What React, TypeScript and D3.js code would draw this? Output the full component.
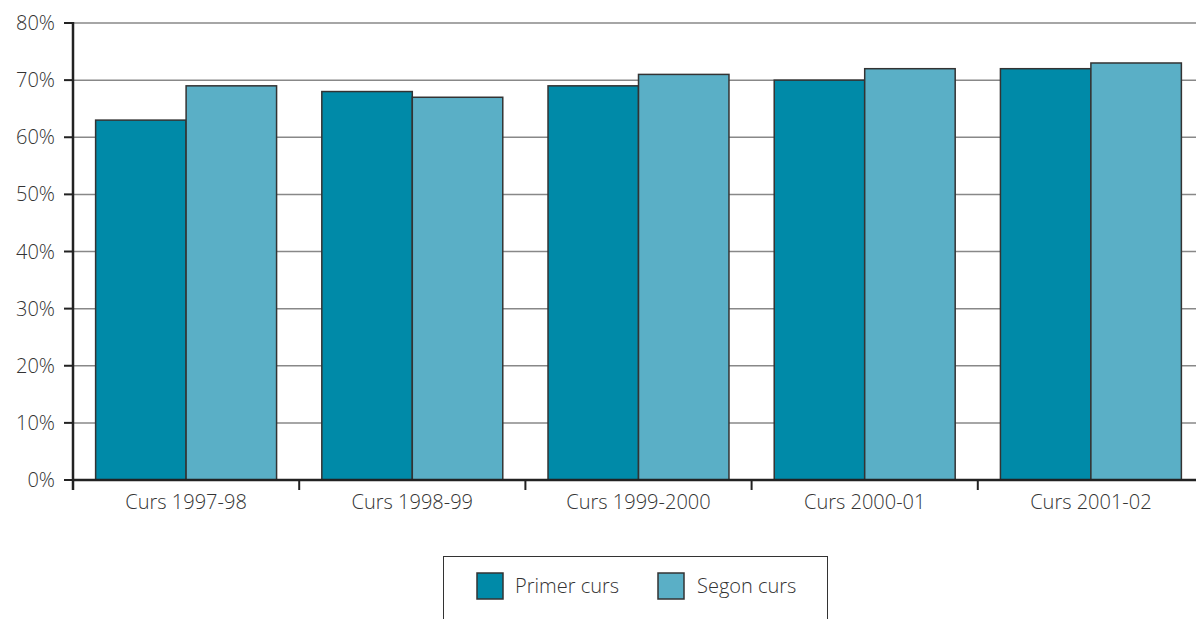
import React from "react";
import * as d3 from "d3";

const categories = ["Curs 1997-98", "Curs 1998-99", "Curs 1999-2000", "Curs 2000-01", "Curs 2001-02"];
const seriesNames = ["Primer curs", "Segon curs"];
const primerCurs = [63, 68, 69, 70, 72];
const segonCurs = [69, 67, 71, 72, 73];
const yTicks = [0, 10, 20, 30, 40, 50, 60, 70, 80];
const colors = ["#008aa8", "#5aafc6"];

export default function App() {
  const W = 1196, H = 619;
  const x0 = 73, x1 = 1204, yTop = 23, yBot = 480;
  const x = d3.scaleBand<string>().domain(categories).range([x0, x1]).paddingInner(0.2).paddingOuter(0.1);
  const outer = d3.scaleBand<string>().domain(categories).range([x0, x1]);
  const sub = d3.scaleBand<string>().domain(seriesNames).range([0, x.bandwidth()]);
  const y = d3.scaleLinear().domain([0, 80]).range([yBot, yTop]);
  const series = [primerCurs, segonCurs];
  const font = "'Open Sans', sans-serif";
  return (
    <svg width={W} height={H} style={{ position: "absolute", left: 0, top: 0 }} fontFamily={font}>
      <rect width={W} height={H} fill="#fff" />
      {yTicks.map(t => (
        <g key={t}>
          {t > 0 && <line x1={x0} x2={W} y1={y(t)} y2={y(t)} stroke="#888" strokeWidth={1.5} />}
          <line x1={64} x2={x0} y1={y(t)} y2={y(t)} stroke="#222" strokeWidth={2} />
          <text x={55} y={y(t)} dy="0.35em" textAnchor="end" fontSize={20} fill="#333" fontWeight={300}>{t}%</text>
        </g>
      ))}
      {categories.map((c, i) => (
        <g key={c}>
          {series.map((s, j) => (
            <rect key={j} x={(x(c) as number) + (sub(seriesNames[j]) as number)} y={y(s[i])}
              width={sub.bandwidth()} height={yBot - y(s[i])} fill={colors[j]} stroke="#333" strokeWidth={1.5} />
          ))}
          <line x1={outer(c)} x2={outer(c)} y1={yBot} y2={490} stroke="#222" strokeWidth={2} />
          <text x={(outer(c) as number) + outer.bandwidth() / 2} y={509} textAnchor="middle" fontSize={20} fill="#333" fontWeight={300}>{c}</text>
        </g>
      ))}
      <line x1={x0} x2={W} y1={yBot} y2={yBot} stroke="#222" strokeWidth={2.5} />
      <line x1={x0} x2={x0} y1={yTop - 1} y2={490} stroke="#222" strokeWidth={2.5} />
      <rect x={443.5} y={556.5} width={384} height={80} fill="#fff" stroke="#333" strokeWidth={1} />
      {seriesNames.map((n, j) => (
        <g key={n}>
          <rect x={[477, 658][j]} y={573} width={26} height={26} fill={colors[j]} stroke="#333" strokeWidth={1.5} />
          <text x={[515, 697][j]} y={586} dy="0.35em" fontSize={20} fill="#333" fontWeight={300}>{n}</text>
        </g>
      ))}
    </svg>
  );
}
